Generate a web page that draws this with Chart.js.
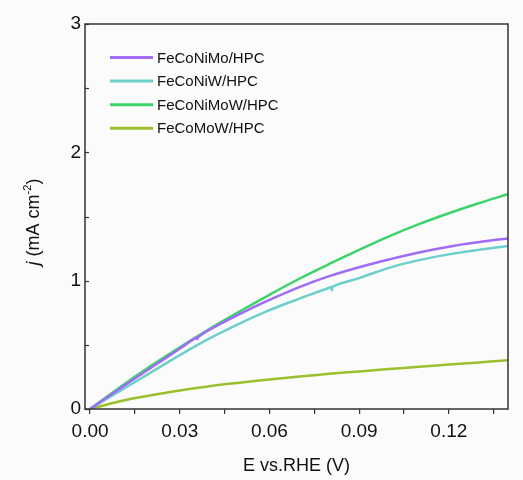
<!DOCTYPE html>
<html>
<head>
<meta charset="utf-8">
<script src="https://cdn.jsdelivr.net/npm/chart.js@4/dist/chart.umd.min.js"></script>
<style>
  html, body { margin: 0; padding: 0; background: #fbfbfb; }
  #wrap { width: 523px; height: 480px; }
</style>
</head>
<body>
<div id="wrap"><canvas id="lvChart" width="523" height="480"></canvas></div>
<script>
// series data (E vs. RHE in V, j in mA cm-2)
var labels = ["FeCoNiMo/HPC", "FeCoNiW/HPC", "FeCoNiMoW/HPC", "FeCoMoW/HPC"];
var colors = ["#a06cf7", "#6dcfcb", "#3dd36b", "#9cbf2e"];

var moX = [0, 0.01, 0.02, 0.03, 0.0355, 0.0358, 0.0362, 0.04, 0.05, 0.06, 0.07, 0.08, 0.09, 0.10, 0.11, 0.12, 0.13, 0.14];
var moY = [0, 0.16, 0.315, 0.47, 0.556, 0.545, 0.561, 0.618, 0.74, 0.85, 0.95, 1.035, 1.105, 1.165, 1.22, 1.265, 1.30, 1.33];

var wX = [0, 0.01, 0.02, 0.03, 0.04, 0.05, 0.06, 0.07, 0.08, 0.0806, 0.0809, 0.0813, 0.09, 0.10, 0.11, 0.12, 0.13, 0.14];
var wY = [0, 0.14, 0.28, 0.42, 0.55, 0.665, 0.77, 0.86, 0.945, 0.952, 0.925, 0.956, 1.02, 1.10, 1.16, 1.205, 1.24, 1.27];

var moWX = [0, 0.01, 0.02, 0.03, 0.04, 0.05, 0.06, 0.07, 0.08, 0.09, 0.10, 0.11, 0.12, 0.13, 0.14];
var moWY = [0, 0.17, 0.33, 0.48, 0.625, 0.76, 0.89, 1.015, 1.13, 1.24, 1.345, 1.44, 1.525, 1.603, 1.676];

var coX = [0, 0.01, 0.02, 0.03, 0.04, 0.05, 0.06, 0.07, 0.08, 0.09, 0.10, 0.11, 0.12, 0.13, 0.14];
var coY = [0, 0.06, 0.105, 0.145, 0.178, 0.205, 0.23, 0.253, 0.274, 0.293, 0.311, 0.329, 0.346, 0.363, 0.38];

// tick positions
var xTicks = [0, 0.015, 0.03, 0.045, 0.06, 0.075, 0.09, 0.105, 0.12, 0.135];
var xMajor = [0, 0.03, 0.06, 0.09, 0.12];
var yTicks = [0, 0.5, 1, 1.5, 2, 2.5, 3];
var yMajor = [0, 1, 2, 3];

function pts(xs, ys) {
  return xs.map(function(x, i) { return { x: x, y: ys[i] }; });
}
var seriesX = [moX, wX, moWX, coX];
var seriesY = [moY, wY, moWY, coY];

var datasets = labels.map(function(lab, i) {
  return {
    label: lab,
    data: pts(seriesX[i], seriesY[i]),
    borderColor: colors[i],
    borderWidth: 2.5,
    pointRadius: 0,
    fill: false,
    tension: 0.35
  };
});

var FONT = "'Liberation Sans', Arial, sans-serif";

// frame, inward y ticks, titles and legend
var decor = {
  id: 'decor',
  beforeDraw: function(chart) {
    var c = chart.ctx;
    c.save();
    c.fillStyle = '#fbfbfb';
    c.fillRect(0, 0, chart.width, chart.height);
    c.restore();
  },
  afterDraw: function(chart) {
    var c = chart.ctx, a = chart.chartArea;
    var ys = chart.scales.y;
    c.save();
    c.strokeStyle = '#333';
    c.lineWidth = 1.5;
    c.strokeRect(a.left, a.top, a.right - a.left, a.bottom - a.top);

    // y ticks pointing inward
    c.lineWidth = 1.2;
    yTicks.forEach(function(v) {
      var py = Math.round(ys.getPixelForValue(v)) + 0.5;
      c.beginPath();
      c.moveTo(a.left, py);
      c.lineTo(a.left + 4, py);
      c.stroke();
    });

    // x title
    c.fillStyle = '#111';
    c.font = '18px ' + FONT;
    c.textAlign = 'center';
    c.textBaseline = 'middle';
    c.fillText('E vs.RHE (V)', (a.left + a.right) / 2, 466);

    // y title: j (mA cm-2)
    c.translate(33, 222);
    c.rotate(-Math.PI / 2);
    var p1 = 'j', p2 = ' (mA cm', sup = '-2', p3 = ')';
    c.font = 'italic 18px ' + FONT;
    var w1 = c.measureText(p1).width;
    c.font = '18px ' + FONT;
    var w2 = c.measureText(p2).width, w3 = c.measureText(p3).width;
    c.font = '11px ' + FONT;
    var ws = c.measureText(sup).width;
    var x0 = -(w1 + w2 + ws + w3) / 2;
    c.textAlign = 'left';
    c.textBaseline = 'alphabetic';
    c.font = 'italic 18px ' + FONT;
    c.fillText(p1, x0, 6);
    c.font = '18px ' + FONT;
    c.fillText(p2, x0 + w1, 6);
    c.font = '11px ' + FONT;
    c.fillText(sup, x0 + w1 + w2, -2);
    c.font = '18px ' + FONT;
    c.fillText(p3, x0 + w1 + w2 + ws, 6);
    c.restore();

    // legend
    c.save();
    c.font = '15px ' + FONT;
    c.textBaseline = 'middle';
    c.textAlign = 'left';
    chart.data.datasets.forEach(function(ds, i) {
      var ly = 57.5 + 23.6 * i;
      c.strokeStyle = ds.borderColor;
      c.lineWidth = 3;
      c.beginPath();
      c.moveTo(110, ly);
      c.lineTo(153, ly);
      c.stroke();
      c.fillStyle = '#111';
      c.fillText(ds.label, 157, ly + 1);
    });
    c.restore();
  }
};

var config = {
  type: 'line',
  data: { datasets: datasets },
  options: {
    responsive: false,
    animation: false,
    layout: { padding: { left: 0, top: 24, right: 15, bottom: 0 } },
    plugins: { legend: { display: false }, tooltip: { enabled: false } },
    scales: {
      x: {
        type: 'linear',
        min: -0.0017,
        max: 0.1398,
        afterFit: function(s) { s.height = 71; },
        afterBuildTicks: function(s) { s.ticks = xTicks.map(function(v) { return { value: v }; }); },
        border: { display: false },
        grid: { drawOnChartArea: false, tickLength: 5, tickColor: '#333', lineWidth: 1.2 },
        ticks: {
          padding: 6,
          color: '#111',
          font: { family: FONT, size: 19 },
          maxRotation: 0,
          autoSkip: false,
          callback: function(v) {
            return xMajor.some(function(m) { return Math.abs(m - v) < 1e-6; }) ? v.toFixed(2) : '';
          }
        }
      },
      y: {
        min: 0,
        max: 3,
        afterFit: function(s) { s.width = 85; },
        afterBuildTicks: function(s) { s.ticks = yTicks.map(function(v) { return { value: v }; }); },
        border: { display: false },
        grid: { display: false, drawTicks: false },
        ticks: {
          padding: 4,
          color: '#111',
          font: { family: FONT, size: 19 },
          autoSkip: false,
          callback: function(v) {
            return yMajor.indexOf(v) >= 0 ? String(v) : '';
          }
        }
      }
    }
  },
  plugins: [decor]
};

new Chart(document.getElementById('lvChart').getContext('2d'), config);
</script>
</body>
</html>
